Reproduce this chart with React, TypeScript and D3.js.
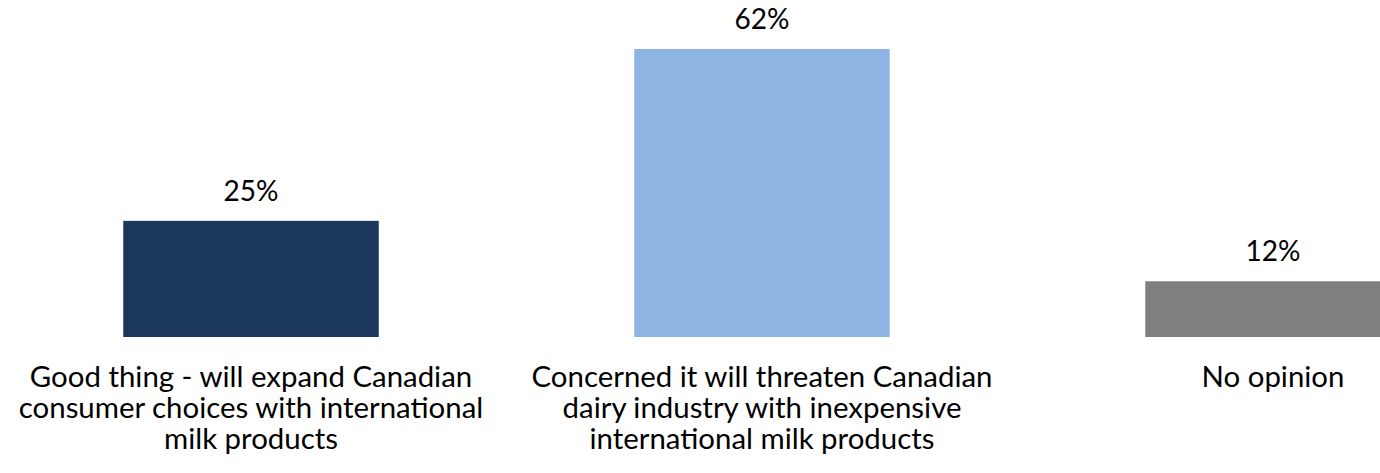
import React, { useEffect, useRef } from "react";
import * as d3 from "d3";

const categories = [
	"Good thing - will expand Canadian consumer choices with international milk products",
	"Concerned it will threaten Canadian dairy industry with inexpensive international milk products",
	"No opinion",
];

// how Excel wrapped each category label
const categoryLines = [
	["Good thing - will expand Canadian", "consumer choices with international", "milk products"],
	["Concerned it will threaten Canadian", "dairy industry with inexpensive", "international milk products"],
	["No opinion"],
];

const values = [25, 62, 12];
const colors = ["#1b375c", "#8eb4e3", "#7f7f7f"];

const App: React.FC = () => {
	const ref = useRef<SVGSVGElement>(null);

	useEffect(() => {
		const width = 1380;
		const height = 473;
		const baseline = 337;

		const svg = d3.select(ref.current).attr("width", width).attr("height", height);
		svg.selectAll("*").remove();

		const font = "Lato, 'Open Sans', sans-serif";

		const x = d3.scaleBand().domain(categories).range([-4.5, 1528.5]).paddingInner(0.5).paddingOuter(0.25);

		const y = d3.scaleLinear().domain([0, 62]).range([baseline, 49]);

		// bars
		svg.selectAll("rect.bar")
			.data(values)
			.enter()
			.append("rect")
			.attr("class", "bar")
			.attr("x", (d, i) => x(categories[i]) || 0)
			.attr("y", (d) => y(d))
			.attr("width", x.bandwidth())
			.attr("height", (d) => baseline - y(d))
			.style("fill", (d, i) => colors[i]);

		// value labels
		svg.selectAll("text.value")
			.data(values)
			.enter()
			.append("text")
			.attr("class", "value")
			.attr("x", (d, i) => (x(categories[i]) || 0) + x.bandwidth() / 2)
			.attr("y", (d) => y(d) - 20)
			.attr("text-anchor", "middle")
			.style("font-family", font)
			.style("font-size", "28px")
			.style("fill", "#000")
			.text((d) => d + "%");

		// category labels
		const labels = svg
			.selectAll("text.cat")
			.data(categories)
			.enter()
			.append("text")
			.attr("class", "cat")
			.attr("text-anchor", "middle")
			.style("font-family", font)
			.style("font-size", "29.4px")
			.style("fill", "#000");

		labels.each(function (d, i) {
			const cx = (x(d) || 0) + x.bandwidth() / 2;
			categoryLines[i].forEach((line, j) => {
				d3.select(this)
					.append("tspan")
					.attr("x", cx)
					.attr("y", 387 + j * 31)
					.text(line);
			});
		});
	}, []);

	return (
		<div style={{ position: "fixed", left: 0, top: 0, background: "#fff" }}>
			<svg ref={ref} style={{ display: "block" }} />
		</div>
	);
};

export default App;
